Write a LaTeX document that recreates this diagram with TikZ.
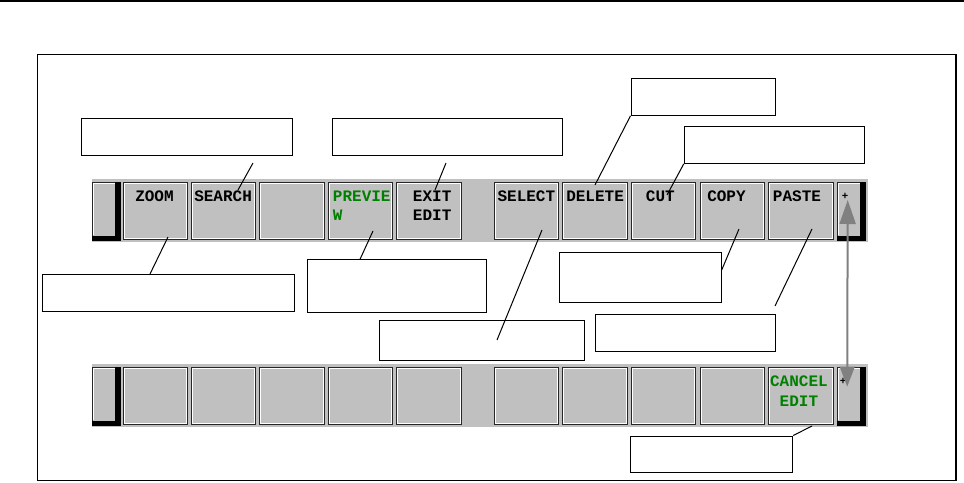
\documentclass[tikz,border=0pt]{standalone}
\usepackage{fontspec}
\newfontfamily\keyfont{Liberation Mono}
\usetikzlibrary{arrows.meta,shapes.misc,fit}
\definecolor{keygray}{RGB}{192,192,192}
\definecolor{keygreen}{RGB}{0,128,0}
\definecolor{arrowgray}{RGB}{128,128,128}

\begin{document}
\begin{tikzpicture}[x=0.75pt,y=-0.75pt,
  keybox/.style={chamfered rectangle,chamfered rectangle xsep=2.2pt,chamfered rectangle ysep=2.2pt,
    minimum width=46.8pt,minimum height=41.8pt,inner sep=0pt,fill=keygray,draw=white,line width=0.8pt,
    preaction={draw=black!85,line width=2.2pt}},
  endkey/.style={rectangle,minimum height=43.5pt,inner sep=0pt,fill=keygray,draw=black!85,line width=0.75pt},
  keytext/.style={font=\keyfont\bfseries\fontsize{12}{14.6}\selectfont,inner sep=0pt,anchor=north west,align=left},
  callout/.style={draw,fill=white,line width=0.75pt,inner sep=0pt},
  leader/.style={line width=0.75pt}]
\useasboundingbox (0,0) rectangle (964,482);
\draw[line width=1.1pt] (0,1) -- (964,1);
\draw[line width=1.1pt] (37.3,54.3) rectangle (956,480.7);

% soft key rows
\fill[keygray] (92,179) rectangle (868,241.5);
\fill[keygray] (92,364) rectangle (868,426.5);
\foreach \r/\y in {a/211,b/396}{
  \node[endkey,minimum width=21pt] (l\r) at (106,\y) {};
  \fill (l\r.north east) ++(-6,0) rectangle (l\r.south east);
  \fill (l\r.south west) ++(0,-5) rectangle (l\r.south east);
  \draw[white,line width=0.75pt] ([shift={(1.5,-6)}]l\r.south west) |- ([shift={(-6,1.5)}]l\r.north east);
  \node[endkey,minimum width=20.5pt] (p\r) at (851.4,\y) {};
  \fill (p\r.north east) ++(-6,0) rectangle (p\r.south east);
  \fill (p\r.south west) ++(0,-5) rectangle (p\r.south east);
  \draw[white,line width=0.75pt] ([shift={(1.5,-6)}]p\r.south west) |- ([shift={(-6,1.5)}]p\r.north east);
  \foreach \i/\x in {1/155.3,2/223.7,3/292.1,4/360.5,5/428.9,6/526.3,7/595,8/663.7,9/732.4,10/801.1}
    \node[keybox] (\r\i) at (\x,\y) {};
}

% key labels
\node[keytext] (tZoom) at (135,190.7) {ZOOM};
\node[keytext] (tSearch) at (194,190.7) {SEARCH};
\node[keytext,text=keygreen] (tPreview) at (332.7,190.7) {PREVIE\\W};
\node[keytext] (tExit) at (412.7,190.7) {EXIT\\EDIT};
\node[keytext] (tSelect) at (497.3,190.7) {SELECT};
\node[keytext] (tDelete) at (566,190.7) {DELETE};
\node[keytext] (tCut) at (645.7,190.7) {CUT};
\node[keytext] (tCopy) at (707,190.7) {COPY};
\node[keytext] (tPaste) at (772.7,190.7) {PASTE};
\node[keytext,anchor=center,font=\keyfont\bfseries\fontsize{8}{9}\selectfont] (tPlusA) at (845,196.5) {+};
\node[keytext,anchor=center,font=\keyfont\bfseries\fontsize{8}{9}\selectfont] (tPlusB) at (843,381) {+};
\node[keytext,anchor=north,align=center,text=keygreen] (tCancel) at (798.9,375.7) {CANCEL\\EDIT};

% callout boxes
\node[callout,fit={(81.3,118.3) (292.7,155.7)}] (cSearch) {};
\node[callout,fit={(332.3,118.3) (562.3,155)}] (cExit) {};
\node[callout,fit={(631,78.3) (775.7,115.3)}] (cDelete) {};
\node[callout,fit={(684.3,126) (864.3,163.3)}] (cCut) {};
\node[callout,fit={(42.3,274) (294.7,311.3)}] (cZoom) {};
\node[callout,fit={(307.3,259.3) (486.3,312.3)}] (cPreview) {};
\node[callout,fit={(379.3,320.3) (584.3,360.3)}] (cSelect) {};
\node[callout,fit={(559.3,252.3) (721.7,302.3)}] (cCopy) {};
\node[callout,fit={(595.3,314.7) (775.7,351.3)}] (cPaste) {};
\node[callout,fit={(630.3,436) (792.7,472.3)}] (cCancel) {};

% leaders
\coordinate (sSearch) at (253,163); \coordinate (eSearch) at (238,190);
\coordinate (sExit) at (446,163); \coordinate (eExit) at (435,190);
\coordinate (eDelete) at (595,185);
\coordinate (eCut) at (667,195);
\coordinate (sZoom) at (150,274); \coordinate (eZoom) at (168,237);
\coordinate (sPreview) at (360,259.3); \coordinate (ePreview) at (373,231);
\coordinate (sSelect) at (497,340); \coordinate (eSelect) at (542,230);
\coordinate (sCopy) at (721.7,270); \coordinate (eCopy) at (739,229);
\coordinate (sPaste) at (775,306); \coordinate (ePaste) at (812,229);
\coordinate (eCancel) at (812,426);
\draw[leader] (sSearch) -- (eSearch);
\draw[leader] (sExit) -- (eExit);
\draw[leader] (cDelete.south west) -- (eDelete);
\draw[leader] (cCut.south west) -- (eCut);
\draw[leader] (sZoom) -- (eZoom);
\draw[leader] (sPreview) -- (ePreview);
\draw[leader] (sSelect) -- (eSelect);
\draw[leader] (sCopy) -- (eCopy);
\draw[leader] (sPaste) -- (ePaste);
\draw[leader] (cCancel.north east) -- (eCancel);

% page change arrow
\coordinate (aTop) at (847.7,200);
\coordinate (aBot) at (847.2,386.7);
\draw[arrowgray,line width=1.5pt,{Triangle[length=18pt,width=12pt]}-{Triangle[length=15pt,width=11pt]}] (aTop) -- (aBot);
\end{tikzpicture}
\end{document}
